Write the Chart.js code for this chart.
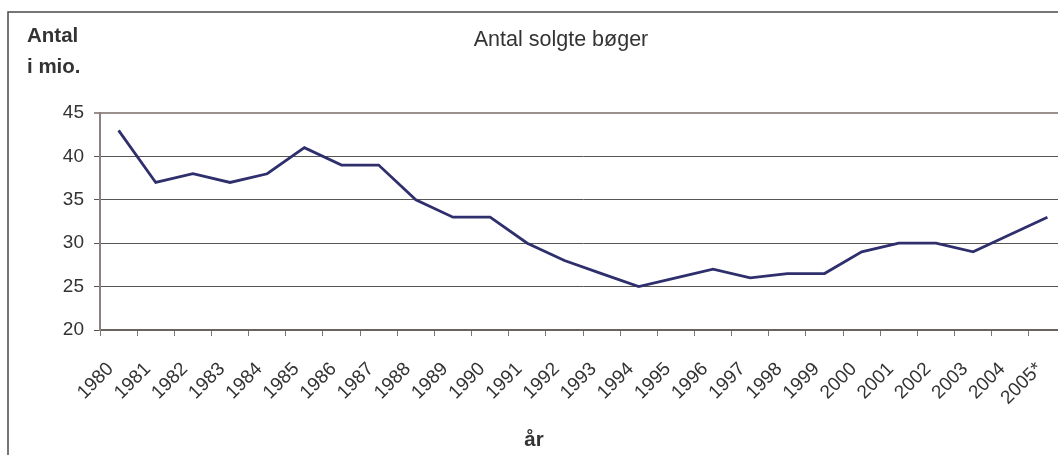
<!DOCTYPE html>
<html lang="da">
<head>
    <meta charset="UTF-8">
    <title>Antal solgte bøger</title>
    <style>
        html, body { margin: 0; padding: 0; background: #fff; overflow: hidden; }
        #wrap { width: 1058px; height: 455px; overflow: hidden; position: relative; }
        canvas { position: absolute; left: 0; top: 0; }
    </style>
</head>
<body>
<div id="wrap">
    <canvas id="bookChart" width="1066" height="455"></canvas>
</div>

<script src="https://cdn.jsdelivr.net/npm/chart.js"></script>
<script>
// data
const years = ['1980', '1981', '1982', '1983', '1984', '1985', '1986', '1987', '1988', '1989',
               '1990', '1991', '1992', '1993', '1994', '1995', '1996', '1997', '1998', '1999',
               '2000', '2001', '2002', '2003', '2004', '2005*'];
const booksSold = [43, 37, 38, 37, 38, 41, 39, 39, 35, 33,
                   33, 30, 28, 26.5, 25, 26, 27, 26, 26.5, 26.5,
                   29, 30, 30, 29, 31, 33];
const yTicks = [20, 25, 30, 35, 40, 45];

const chartTitle = 'Antal solgte bøger';
const yTitle = ['Antal', 'i mio.'];
const xTitle = 'år';

const textColor = '#333';
const fontFamily = '"Liberation Sans", Arial, sans-serif';

// ramme + tekster tegnes selv
const decorPlugin = {
    id: 'decor',
    afterDraw(chart) {
        const ctx = chart.ctx;
        ctx.save();
        ctx.strokeStyle = '#4a4a4a';
        ctx.lineWidth = 1.5;
        ctx.strokeRect(8, 12, 1200, 600);

        ctx.fillStyle = textColor;
        ctx.textBaseline = 'alphabetic';
        ctx.font = '21.5px ' + fontFamily;
        ctx.textAlign = 'center';
        ctx.fillText(chartTitle, 561, 46);

        ctx.font = 'bold 20.5px ' + fontFamily;
        ctx.textAlign = 'left';
        ctx.fillText(yTitle[0], 27, 42);
        ctx.fillText(yTitle[1], 27, 73);

        ctx.textAlign = 'center';
        ctx.fillText(xTitle, 534, 446);
        ctx.restore();
    }
};

const ctx = document.getElementById('bookChart').getContext('2d');
new Chart(ctx, {
    type: 'line',
    data: {
        labels: years,
        datasets: [{
            data: booksSold,
            borderColor: '#2f2f6d',
            borderWidth: 2.8,
            pointRadius: 0,
            tension: 0,
            fill: false
        }]
    },
    options: {
        responsive: false,
        animation: false,
        devicePixelRatio: 1,
        layout: { padding: { top: 113, left: 0, right: 0, bottom: 0 } },
        plugins: {
            legend: { display: false },
            tooltip: { enabled: false },
            title: { display: false }
        },
        scales: {
            x: {
                offset: true,
                grid: {
                    offset: true,
                    drawOnChartArea: false,
                    drawTicks: true,
                    tickLength: 6,
                    color: '#777'
                },
                border: { color: '#6b6262', width: 2 },
                ticks: {
                    color: textColor,
                    font: { family: fontFamily, size: 19 },
                    maxRotation: 45,
                    minRotation: 45,
                    autoSkip: false,
                    padding: 22,
                    labelOffset: -8
                },
                afterFit(scale) {
                    scale.height = 125;
                    scale.paddingLeft = 0;
                    scale.paddingRight = 0;
                }
            },
            y: {
                min: 20,
                max: 45,
                afterBuildTicks(scale) { scale.ticks = yTicks.map(v => ({ value: v })); },
                grid: {
                    tickLength: 6,
                    color: c => c.tick && c.tick.value === 45 ? '#9c908c' : '#555',
                    lineWidth: c => c.tick && c.tick.value === 45 ? 2 : 1
                },
                border: { color: '#8c817e', width: 2 },
                ticks: {
                    color: textColor,
                    font: { family: fontFamily, size: 19 },
                    padding: 10
                },
                afterFit(scale) {
                    scale.width = 100;
                    scale.paddingTop = 0;
                    scale.paddingBottom = 0;
                }
            }
        }
    },
    plugins: [decorPlugin]
});
</script>
</body>
</html>
